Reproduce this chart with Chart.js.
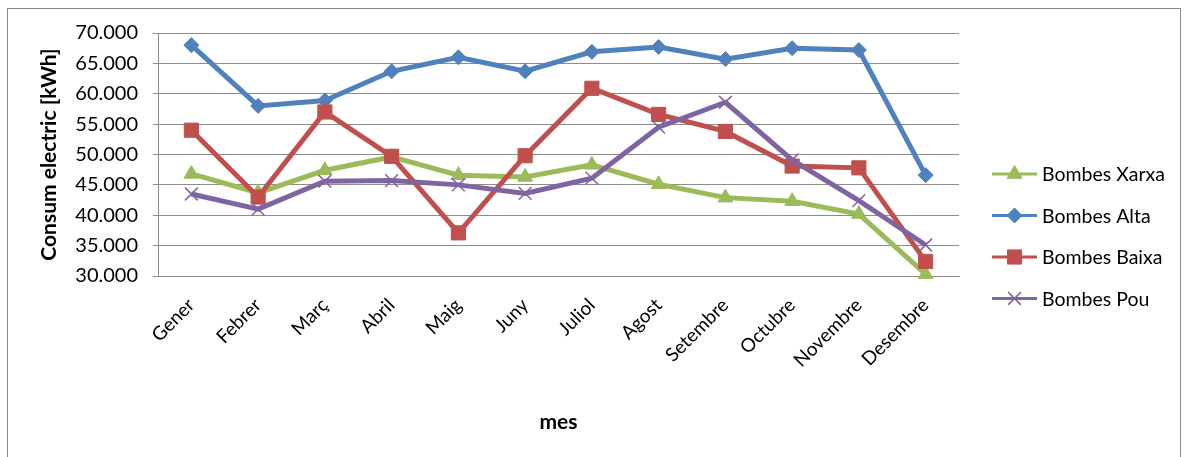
<!DOCTYPE html>
<html>
<head>
<meta charset="utf-8">
<title>Consum electric</title>
<script src="https://cdn.jsdelivr.net/npm/chart.js@4/dist/chart.umd.min.js"></script>
<style>
  html, body { margin: 0; padding: 0; background: #fff; overflow: hidden; }
  #frame {
    position: absolute; left: 7px; top: 8px; width: 1174px; height: 470px;
    border: 1px solid #8a8a8a; box-sizing: border-box;
  }
  #wrap { position: absolute; left: 0; top: 0; width: 1189px; height: 457px; }
</style>
</head>
<body>
<div id="frame"></div>
<div id="wrap"><canvas id="myChart"></canvas></div>
<script>
'use strict';

const months = ['Gener', 'Febrer', 'Març', 'Abril', 'Maig', 'Juny', 'Juliol',
  'Agost', 'Setembre', 'Octubre', 'Novembre', 'Desembre'];

const bombesXarxa = [46800, 43700, 47400, 49600, 46600, 46300, 48300, 45100, 42900, 42300, 40200, 30300];
const bombesAlta = [68000, 58000, 58900, 63700, 66000, 63700, 66900, 67700, 65700, 67500, 67200, 46600];
const bombesBaixa = [54000, 43000, 57000, 49700, 37100, 49800, 60900, 56600, 53800, 48100, 47800, 32400];
const bombesPou = [43500, 41000, 45600, 45700, 45000, 43600, 46100, 54500, 58600, 49100, 42400, 35100];

const yMin = 30000, yMax = 70000, yStep = 5000;

const fontFamily = 'Lato, "Open Sans", sans-serif';

const ctx = document.querySelector('#myChart').getContext('2d');

const serie = (label, data, color, pointStyle, radius, order) => ({
  label: label,
  data: data,
  borderColor: color,
  backgroundColor: color,
  pointBackgroundColor: color,
  pointBorderColor: color,
  pointStyle: pointStyle,
  pointRadius: radius,
  pointBorderWidth: pointStyle === 'crossRot' ? 1.5 : 1,
  borderWidth: 5,
  tension: 0,
  clip: false,
  order: order
});

// Legend at the right: short line with the marker on it
const lineLegend = {
  id: 'lineLegend',
  afterDraw(chart) {
    const c = chart.ctx;
    const x0 = 992, x1 = 1037, yStart = 174, gap = 41.5;
    c.save();
    chart.data.datasets.forEach((ds, i) => {
      const y = yStart + i * gap;
      c.strokeStyle = ds.borderColor;
      c.lineWidth = 3;
      c.beginPath();
      c.moveTo(x0, y);
      c.lineTo(x1, y);
      c.stroke();
      c.fillStyle = ds.backgroundColor;
      c.lineWidth = ds.pointBorderWidth;
      Chart.helpers.drawPoint(c, {
        pointStyle: ds.pointStyle,
        radius: ds.pointRadius,
        borderWidth: ds.pointBorderWidth,
        rotation: 0
      }, (x0 + x1) / 2, y);
      c.fillStyle = '#000';
      c.font = '19.5px ' + fontFamily;
      c.textBaseline = 'middle';
      c.textAlign = 'left';
      c.fillText(ds.label, 1042, y + 1);
    });
    c.restore();
  }
};

const myChart = new Chart(ctx, {
  type: 'line',
  data: {
    labels: months,
    datasets: [
      serie('Bombes Xarxa', bombesXarxa, '#9BBB59', 'triangle', 8.5, 4),
      serie('Bombes Alta', bombesAlta, '#4F81BD', 'rectRot', 7.5, 3),
      serie('Bombes Baixa', bombesBaixa, '#C0504D', 'rect', 10, 2),
      serie('Bombes Pou', bombesPou, '#8064A2', 'crossRot', 9, 1)
    ]
  },
  options: {
    responsive: true,
    maintainAspectRatio: false,
    animation: false,
    layout: {
      padding: { left: 0, right: 230, top: 33, bottom: 0 }
    },
    scales: {
      y: {
        min: yMin,
        max: yMax,
        afterFit: (scale) => { scale.width = 158; },
        grid: {
          color: '#8c8c8c',
          lineWidth: 1,
          tickLength: 5
        },
        border: { color: '#8c8c8c', width: 1 },
        ticks: {
          stepSize: yStep,
          padding: 15,
          color: '#000',
          font: { family: fontFamily, size: 20 },
          callback: (value) => (value / 1000).toFixed(3)
        },
        title: {
          display: true,
          text: 'Consum electric [kWh]',
          color: '#000',
          font: { family: fontFamily, size: 21, weight: 'bold', lineHeight: 1.2 },
          padding: { top: 37, bottom: 0 }
        }
      },
      x: {
        offset: true,
        afterFit: (scale) => { scale.height = 181; },
        grid: { display: false },
        border: { color: '#8c8c8c', width: 1 },
        ticks: {
          minRotation: 45,
          maxRotation: 45,
          padding: 10,
          color: '#000',
          font: { family: fontFamily, size: 19 }
        },
        title: {
          display: true,
          text: 'mes',
          color: '#000',
          font: { family: fontFamily, size: 21, weight: 'bold', lineHeight: 1.2 },
          padding: { top: 0, bottom: 22 }
        }
      }
    },
    plugins: {
      legend: { display: false },
      tooltip: { enabled: false }
    }
  },
  plugins: [lineLegend]
});
</script>
</body>
</html>
